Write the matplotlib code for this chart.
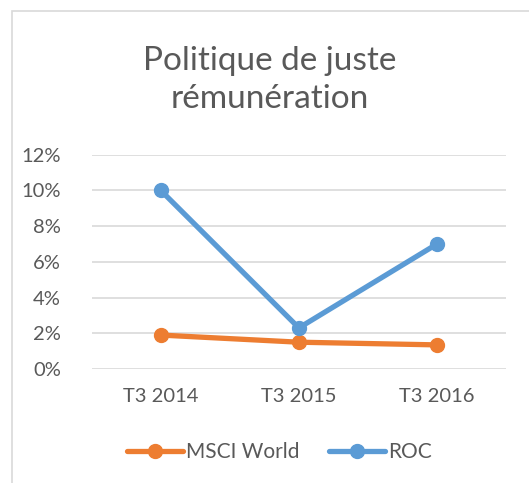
import matplotlib.pyplot as plt
from matplotlib.patches import Rectangle
from matplotlib.ticker import PercentFormatter

categories = ["T3 2014", "T3 2015", "T3 2016"]
msci_world = [0.019, 0.015, 0.0135]
roc = [0.100, 0.023, 0.070]
yticks = [0, 0.02, 0.04, 0.06, 0.08, 0.10, 0.12]

plt.rcParams['font.family'] = ['Lato', 'DejaVu Sans']
text_color = "#595959"

fig = plt.figure(figsize=(5.29, 4.83), dpi=100)
ax = fig.add_axes([0.173, 0.236, 0.784, 0.444])

# chart frame (right/bottom edges fall outside the image)
fig.patches.append(Rectangle((12 / 529, -0.1), 1.2, 1 - 11 / 483 + 0.1,
                             transform=fig.transFigure, fill=False,
                             edgecolor="#d9d9d9", linewidth=1.2))

x = range(len(categories))
ax.plot(x, msci_world, color="#ed7d31", linewidth=3.8, marker="o",
        markersize=10, label="MSCI World", solid_capstyle="round")
ax.plot(x, roc, color="#5b9bd5", linewidth=3.8, marker="o",
        markersize=10, label="ROC", solid_capstyle="round")

ax.set_xlim(-0.5, 2.5)
ax.set_ylim(0, 0.12)
ax.set_yticks(yticks)
ax.yaxis.set_major_formatter(PercentFormatter(1.0, decimals=0))
ax.set_xticks(list(x))
ax.set_xticklabels(categories)
ax.grid(axis="y", color="#d9d9d9", linewidth=1.2)
ax.set_axisbelow(True)
for s in ax.spines.values():
    s.set_visible(False)
ax.tick_params(length=0, labelsize=14.5, colors=text_color)
ax.tick_params(axis="y", pad=22)
ax.tick_params(axis="x", pad=14)

fig.text(0.51, 1 - 80 / 483, "Politique de juste\nrémunération",
         ha="center", va="center", fontsize=24, color=text_color,
         linespacing=1.35)

fig.legend(loc="center", bbox_to_anchor=(0.528, 1 - 452 / 483), ncol=2,
           frameon=False, fontsize=15, labelcolor=text_color,
           handlelength=2.7, handletextpad=0.15, columnspacing=1.4)

plt.savefig("out.png", dpi=100)
